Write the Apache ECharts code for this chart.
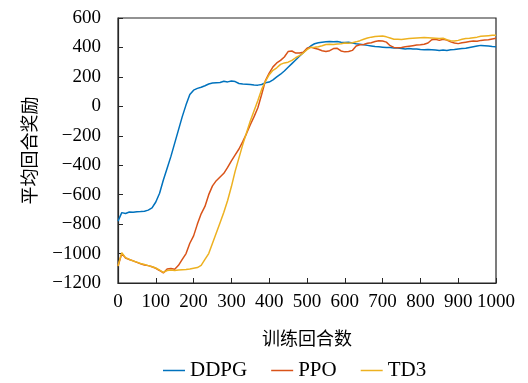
<!DOCTYPE html>
<html>
<head>
<meta charset="utf-8">
<script src="https://cdn.jsdelivr.net/npm/echarts@6/dist/echarts.min.js"></script>
<style>
  html, body { margin: 0; padding: 0; background: #fff; }
  #chart { width: 528px; height: 383px; }
</style>
</head>
<body>
<div id="chart"></div>
<script>
// Training episodes (every 10 episodes)
const episodes = [];
for (let e = 0; e <= 1000; e += 10) episodes.push(e);

const seriesNames = ['DDPG', 'PPO', 'TD3'];
const seriesColors = ['#0072BD', '#D95319', '#EDB120'];

// Average episode reward per algorithm
const ddpg = [
  -780, -722, -728, -718, -720, -716, -715, -712, -705, -690,
  -650, -590, -500, -420, -340, -250, -160, -70, 10, 80,
  110, 122, 130, 140, 152, 158, 160, 162, 170, 166,
  172, 168, 155, 152, 150, 148, 145, 144, 148, 160,
  165, 180, 200, 218, 240, 265, 290, 315, 340, 365,
  390, 410, 425, 432, 436, 438, 440, 438, 440, 436,
  434, 435, 430, 425, 422, 418, 414, 410, 406, 404,
  402, 400, 400, 396, 396, 393, 390, 392, 390, 389,
  386, 385, 386, 384, 382, 380, 382, 380, 384, 386,
  390, 392, 394, 400, 405, 410, 414, 412, 410, 406,
  404
];

const ppo = [
  -1085, -1000, -1030, -1040, -1050, -1060, -1070, -1078, -1082, -1090,
  -1100, -1115, -1132, -1105, -1102, -1106, -1080, -1040, -1000, -930,
  -880, -800, -730, -680, -600, -540, -505, -480, -455, -415,
  -370, -330, -290, -240, -185, -125, -70, -10, 80, 175,
  225, 268, 295, 312, 335, 372, 376, 362, 362, 368,
  395, 402, 395, 388, 378, 372, 378, 392, 394, 376,
  370, 372, 380, 410, 418, 420, 428, 432, 440, 446,
  444, 436, 412, 400, 398, 400, 404, 408, 412, 416,
  418, 422, 430, 452, 455, 448, 456, 450, 438, 430,
  426, 432, 436, 440, 444, 442, 448, 450, 452, 458,
  462
];

const td3 = [
  -1085, -995, -1028, -1040, -1050, -1058, -1068, -1075, -1082, -1090,
  -1098, -1112, -1128, -1115, -1112, -1115, -1112, -1110, -1108, -1105,
  -1100, -1095, -1080, -1040, -1000, -930, -860, -790, -720, -640,
  -545, -440, -350, -260, -180, -100, -30, 40, 115, 170,
  215, 245, 262, 285, 295, 300, 312, 330, 345, 362,
  385, 400, 402, 405, 412, 420, 422, 420, 424, 425,
  430, 428, 432, 438, 446, 456, 464, 470, 474, 476,
  478, 472, 464, 456, 455, 454, 458, 460, 462, 464,
  466, 468, 466, 464, 462, 460, 462, 452, 446, 444,
  448, 455, 460, 462, 466, 470, 476, 478, 480, 482,
  482
];

const seriesValues = [ddpg, ppo, td3];

const serif = '"Liberation Serif", "DejaVu Serif", serif';
const cjk = '"Noto Sans CJK SC", sans-serif';
const plain = v => String(v).replace('-', '\u2212');

const chart = echarts.init(document.getElementById('chart'), null, { renderer: 'canvas' });

chart.setOption({
  animation: false,
  backgroundColor: '#fff',
  grid: {
    left: 118, right: 32, top: 18, bottom: 100,
    show: true, borderColor: '#262626', borderWidth: 1.2, backgroundColor: 'transparent'
  },
  legend: {
    bottom: -3,
    left: 158,
    icon: 'rect',
    itemWidth: 22,
    itemHeight: 1.5,
    itemGap: 24,
    textStyle: { fontFamily: serif, fontSize: 21, color: '#000' },
    data: seriesNames
  },
  xAxis: {
    type: 'value',
    min: 0, max: 1000, interval: 100,
    name: '训练回合数',
    nameLocation: 'middle',
    nameGap: 46,
    nameTextStyle: { fontFamily: cjk, fontSize: 18, color: '#000' },
    axisLine: { show: true, onZero: false, lineStyle: { color: '#262626', width: 1.2 } },
    axisTick: { show: true, inside: true, length: 5, lineStyle: { color: '#262626' } },
    axisLabel: { margin: 10, fontFamily: serif, fontSize: 19, color: '#000', formatter: plain },
    splitLine: { show: false }
  },
  yAxis: {
    type: 'value',
    min: -1200, max: 600, interval: 200,
    name: '平均回合奖励',
    nameLocation: 'middle',
    nameGap: 80,
    nameTextStyle: { fontFamily: cjk, fontSize: 18, color: '#000' },
    axisLine: { show: true, onZero: false, lineStyle: { color: '#262626', width: 1.2 } },
    axisTick: { show: true, inside: true, length: 5, lineStyle: { color: '#262626' } },
    axisLabel: { margin: 17, fontFamily: serif, fontSize: 19, color: '#000', formatter: plain },
    splitLine: { show: false }
  },
  series: seriesNames.map((name, i) => ({
    name: name,
    type: 'line',
    symbol: 'none',
    color: seriesColors[i],
    lineStyle: { width: 1.5, color: seriesColors[i] },
    data: episodes.map((e, k) => [e, seriesValues[i][k]])
  }))
});
</script>
</body>
</html>
